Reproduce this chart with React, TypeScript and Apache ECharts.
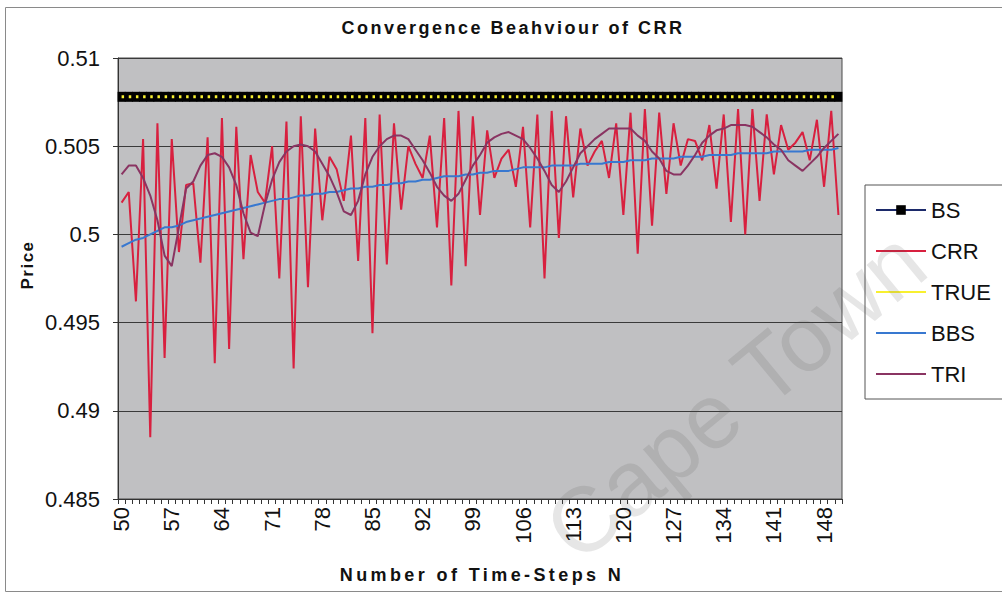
import React, { useEffect, useRef } from 'react';
import * as echarts from 'echarts';

// Number of time-steps N (category axis)
const STEPS = [
  50, 51, 52, 53, 54, 55, 56, 57, 58, 59, 60, 61, 62, 63, 64, 65, 66, 67, 68, 69,
  70, 71, 72, 73, 74, 75, 76, 77, 78, 79, 80, 81, 82, 83, 84, 85, 86, 87, 88, 89,
  90, 91, 92, 93, 94, 95, 96, 97, 98, 99, 100, 101, 102, 103, 104, 105, 106, 107, 108, 109,
  110, 111, 112, 113, 114, 115, 116, 117, 118, 119, 120, 121, 122, 123, 124, 125, 126, 127, 128, 129,
  130, 131, 132, 133, 134, 135, 136, 137, 138, 139, 140, 141, 142, 143, 144, 145, 146, 147, 148, 149,
  150,
];

const CRR = [
  0.5018, 0.5024, 0.4962, 0.5054, 0.4885, 0.5063, 0.4930, 0.5054, 0.4990, 0.5028,
  0.5029, 0.4984, 0.5055, 0.4927, 0.5066, 0.4935, 0.5061, 0.4986, 0.5045, 0.5024,
  0.5018, 0.5050, 0.4975, 0.5064, 0.4924, 0.5067, 0.4970, 0.5060, 0.5008, 0.5044,
  0.5037, 0.5019, 0.5056, 0.4985, 0.5066, 0.4944, 0.5068, 0.4983, 0.5063, 0.5014,
  0.5050, 0.5040, 0.5032, 0.5056, 0.5004, 0.5066, 0.4971, 0.5070, 0.4982, 0.5067,
  0.5011, 0.5059, 0.5032, 0.5043, 0.5048, 0.5027, 0.5061, 0.5004, 0.5068, 0.4975,
  0.5070, 0.4998, 0.5067, 0.5021, 0.5060, 0.5039, 0.5047, 0.5053, 0.5032, 0.5063,
  0.5011, 0.5069, 0.4989, 0.5071, 0.5005, 0.5069, 0.5023, 0.5063, 0.5039, 0.5054,
  0.5053, 0.5042, 0.5062, 0.5026, 0.5068, 0.5007, 0.5071, 0.5000, 0.5071, 0.5019,
  0.5068, 0.5034, 0.5062, 0.5048, 0.5052, 0.5058, 0.5042, 0.5065, 0.5027, 0.5070,
  0.5011,
];

const BBS = [
  0.4993, 0.4995, 0.4997, 0.4998, 0.5000, 0.5002, 0.5004, 0.5004, 0.5005, 0.5007,
  0.5008, 0.5009, 0.5010, 0.5011, 0.5012, 0.5013, 0.5014, 0.5015, 0.5016, 0.5017,
  0.5018, 0.5019, 0.5020, 0.5020, 0.5021, 0.5022, 0.5022, 0.5023, 0.5023, 0.5024,
  0.5024, 0.5025, 0.5026, 0.5026, 0.5027, 0.5027, 0.5028, 0.5028, 0.5029, 0.5029,
  0.5030, 0.5030, 0.5031, 0.5031, 0.5032, 0.5033, 0.5033, 0.5033, 0.5034, 0.5034,
  0.5035, 0.5035, 0.5036, 0.5036, 0.5036, 0.5037, 0.5038, 0.5038, 0.5038, 0.5038,
  0.5039, 0.5039, 0.5039, 0.5039, 0.5040, 0.5040, 0.5040, 0.5040, 0.5041, 0.5041,
  0.5041, 0.5042, 0.5042, 0.5042, 0.5043, 0.5043, 0.5043, 0.5043, 0.5044, 0.5044,
  0.5044, 0.5044, 0.5045, 0.5045, 0.5045, 0.5045, 0.5046, 0.5046, 0.5046, 0.5046,
  0.5046, 0.5047, 0.5047, 0.5047, 0.5047, 0.5047, 0.5048, 0.5048, 0.5048, 0.5048,
  0.5049,
];

const TRI = [
  0.5034, 0.5039, 0.5039, 0.5032, 0.5022, 0.5008, 0.4988, 0.4982, 0.5004, 0.5026,
  0.5030, 0.5039, 0.5045, 0.5046, 0.5044, 0.5038, 0.5028, 0.5012, 0.5001, 0.4999,
  0.5017, 0.5031, 0.5041, 0.5047, 0.5050, 0.5051, 0.5050, 0.5047, 0.5040, 0.5033,
  0.5024, 0.5013, 0.5011, 0.5019, 0.5034, 0.5044, 0.5050, 0.5054, 0.5056, 0.5056,
  0.5054, 0.5048, 0.5042, 0.5035, 0.5027, 0.5022, 0.5019, 0.5023, 0.5031, 0.5039,
  0.5045, 0.5052, 0.5055, 0.5057, 0.5058, 0.5056, 0.5054, 0.5049, 0.5043, 0.5036,
  0.5028, 0.5024, 0.5030, 0.5038, 0.5046, 0.5050, 0.5054, 0.5057, 0.5060, 0.5060,
  0.5060, 0.5060, 0.5056, 0.5053, 0.5047, 0.5043, 0.5036, 0.5034, 0.5034, 0.5039,
  0.5045, 0.5052, 0.5056, 0.5059, 0.5060, 0.5062, 0.5062, 0.5062, 0.5061, 0.5058,
  0.5055, 0.5051, 0.5048, 0.5042, 0.5039, 0.5036, 0.5040, 0.5044, 0.5049, 0.5053,
  0.5057,
];

// Constant Black-Scholes price and "true" price
const BS_PRICE = 0.5078;
const TRUE_PRICE = 0.5078;

const SERIES_NAMES = ['BS', 'CRR', 'TRUE', 'BBS', 'TRI'];

const FONT = '"Liberation Sans", Arial, Helvetica, sans-serif';
const LINE_ICON = 'path://M0,0 L50,0 L50,2.2 L0,2.2 Z';

const SPACED: Record<string, string> = {
  'Convergence Beahviour of CRR': '2.5px',
  'Number of Time-Steps N': '3.4px',
  'Price': '1.5px',
};

export default function App() {
  const ref = useRef<HTMLDivElement>(null);

  useEffect(() => {
    if (!ref.current) return;
    const chart = echarts.init(ref.current, null, { renderer: 'svg' });

    const bsData = STEPS.map(() => BS_PRICE);
    const trueData = STEPS.map(() => TRUE_PRICE);

    const option: any = {
      animation: false,
      backgroundColor: '#ffffff',
      textStyle: { fontFamily: FONT },
      grid: {
        left: 118,
        top: 58,
        width: 724,
        height: 441,
        show: true,
        backgroundColor: '#C0C0C2',
        borderColor: '#4a4a4a',
        borderWidth: 1,
      },
      xAxis: {
        type: 'category',
        data: STEPS.map(String),
        boundaryGap: true,
        axisLine: { show: true, lineStyle: { color: '#333', width: 1 } },
        axisTick: { show: true, interval: 0, length: 5, lineStyle: { color: '#333' } },
        axisLabel: {
          interval: 6,
          rotate: 90,
          fontSize: 22,
          color: '#111',
          margin: 8,
          fontFamily: FONT,
        },
        splitLine: { show: false },
      },
      yAxis: {
        type: 'value',
        min: 0.485,
        max: 0.51,
        interval: 0.005,
        axisLine: { show: true, lineStyle: { color: '#333' } },
        axisTick: { show: true, length: 5, lineStyle: { color: '#333' } },
        axisLabel: {
          fontSize: 22,
          color: '#111',
          margin: 18,
          fontFamily: FONT,
          formatter: (v: number) => String(parseFloat(v.toFixed(3))),
        },
        splitLine: { show: true, lineStyle: { color: '#3a3a3a', width: 1 } },
      },
      legend: {
        orient: 'vertical',
        left: 865,
        top: 185,
        padding: [14, 14, 14, 10],
        itemGap: 19,
        itemWidth: 50,
        itemHeight: 12,
        borderColor: '#555',
        borderWidth: 1,
        backgroundColor: '#ffffff',
        textStyle: { fontSize: 22, color: '#111', fontFamily: FONT, lineHeight: 22 },
        data: [
          { name: 'BS' },
          { name: 'CRR', icon: LINE_ICON },
          { name: 'TRUE', icon: LINE_ICON },
          { name: 'BBS', icon: LINE_ICON },
          { name: 'TRI', icon: LINE_ICON },
        ],
      },
      graphic: [
        {
          type: 'rect',
          silent: true,
          z: 0,
          shape: { x: 5.5, y: 7.5, width: 1000, height: 584 },
          style: { fill: 'none', stroke: '#8a8a8a', lineWidth: 1 },
        },
        {
          type: 'text',
          x: 513,
          y: 28,
          style: {
            text: 'Convergence Beahviour of CRR',
            font: `bold 18px ${FONT}`,
            fill: '#111',
            textAlign: 'center',
            textVerticalAlign: 'middle',
          },
        },
        {
          type: 'text',
          x: 27,
          y: 265,
          rotation: Math.PI / 2,
          style: {
            text: 'Price',
            font: `bold 17px ${FONT}`,
            fill: '#111',
            textAlign: 'center',
            textVerticalAlign: 'middle',
          },
        },
        {
          type: 'text',
          x: 482,
          y: 575,
          style: {
            text: 'Number of Time-Steps N',
            font: `bold 18px ${FONT}`,
            fill: '#111',
            textAlign: 'center',
            textVerticalAlign: 'middle',
          },
        },
        {
          type: 'text',
          x: 735,
          y: 395,
          rotation: 0.69,
          z: 100,
          silent: true,
          style: {
            text: 'Cape Town',
            font: `normal 92px ${FONT}`,
            fill: 'rgba(80,80,80,0.14)',
            textAlign: 'center',
            textVerticalAlign: 'middle',
          },
        },
      ],
      series: [
        {
          name: SERIES_NAMES[0],
          type: 'line',
          data: bsData,
          symbol: 'rect',
          symbolSize: [8, 10],
          showSymbol: true,
          showAllSymbol: true,
          z: 2,
          itemStyle: { color: '#000000' },
          lineStyle: { color: '#1c2a6a', width: 2 },
        },
        {
          name: SERIES_NAMES[1],
          type: 'line',
          data: CRR,
          symbol: 'none',
          z: 3,
          itemStyle: { color: '#D8203F' },
          lineStyle: { color: '#D8203F', width: 2 },
        },
        {
          name: SERIES_NAMES[2],
          type: 'line',
          data: trueData,
          symbol: 'none',
          z: 4,
          itemStyle: { color: '#F8F030' },
          lineStyle: { color: '#F8F030', width: 3, type: [2.5, 4.67] },
        },
        {
          name: SERIES_NAMES[3],
          type: 'line',
          data: BBS,
          symbol: 'none',
          z: 5,
          itemStyle: { color: '#3878D0' },
          lineStyle: { color: '#3878D0', width: 2 },
        },
        {
          name: SERIES_NAMES[4],
          type: 'line',
          data: TRI,
          symbol: 'none',
          z: 6,
          itemStyle: { color: '#8A3462' },
          lineStyle: { color: '#8A3462', width: 2 },
        },
      ],
    };

    const applySpacing = () => {
      if (!ref.current) return;
      ref.current.querySelectorAll('text').forEach((t) => {
        const s = SPACED[(t.textContent || '').trim()];
        if (s) t.setAttribute('letter-spacing', s);
      });
    };
    chart.on('finished', applySpacing);
    chart.setOption(option);
    applySpacing();
    const raf = requestAnimationFrame(applySpacing);

    return () => {
      cancelAnimationFrame(raf);
      chart.dispose();
    };
  }, []);

  return (
    <div
      ref={ref}
      style={{ position: 'absolute', left: 0, top: 0, width: 1002, height: 594 }}
    />
  );
}
